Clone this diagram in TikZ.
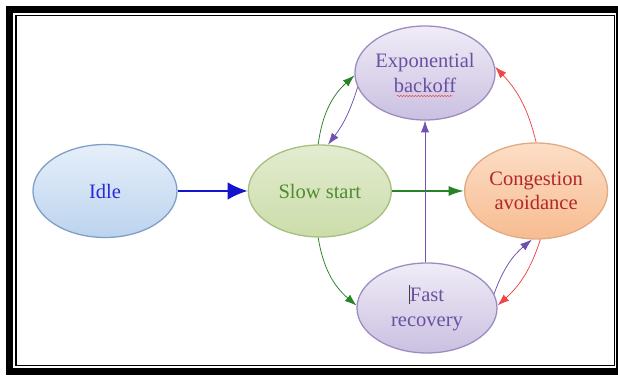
\documentclass[tikz,border=0pt]{standalone}
\usepackage{fontspec}
\setmainfont{Liberation Serif}
\usetikzlibrary{positioning,shapes.geometric,arrows.meta,decorations.pathmorphing}

\definecolor{idleBlue}{RGB}{40,40,215}
\definecolor{slowGreen}{RGB}{78,140,48}
\definecolor{stPurple}{RGB}{106,80,160}
\definecolor{congRed}{RGB}{176,40,40}
\definecolor{arrBlue}{RGB}{20,20,205}
\definecolor{arrGreen}{RGB}{40,130,40}
\definecolor{arrPurple}{RGB}{112,80,176}
\definecolor{arrRed}{RGB}{240,70,70}

\begin{document}
\begin{tikzpicture}[x=0.03cm, y=0.03cm,
    state/.style={ellipse, draw, line width=1.1pt, inner sep=0pt, align=center,
      font=\fontsize{17.5}{21}\selectfont},
    thinArrow/.style={line width=0.65pt, -{Latex[length=10pt,width=7pt]}}]
        \useasboundingbox (0,0) rectangle (618,376);
        \clip (0,0) rectangle (618,376);
        \fill[white] (0,0) rectangle (618,376);
        \draw[line width=6pt] (9.5,366.5) rectangle (619.5,4.5);
        \draw[line width=1.3pt] (16,360.5) rectangle (614.5,10.5);

        \node[state, minimum width=4.32cm, minimum height=2.79cm, draw={rgb,255:red,127;green,159;blue,200}, top color={rgb,255:red,230;green,239;blue,250}, bottom color={rgb,255:red,188;green,211;blue,238}, text=idleBlue] (idle) at (105,185) {Idle};
        \node[state, minimum width=4.29cm, minimum height=2.76cm, draw={rgb,255:red,166;green,191;blue,126}, top color={rgb,255:red,226;green,236;blue,208}, bottom color={rgb,255:red,204;green,221;blue,170}, text=slowGreen] (slowStart) [right = 2.1cm of idle] {Slow start};
        \node[state, minimum width=4.29cm, minimum height=2.88cm, draw={rgb,255:red,226;green,170;blue,130}, top color={rgb,255:red,252;green,222;blue,198}, bottom color={rgb,255:red,247;green,188;blue,145}, text=congRed] (congAvoid) [right = 2.16cm of slowStart] {Congestion\\avoidance};
        \node[state, minimum width=4.2cm, minimum height=2.82cm, draw={rgb,255:red,156;green,140;blue,191}, top color={rgb,255:red,240;green,236;blue,247}, bottom color={rgb,255:red,202;green,192;blue,225}, text=stPurple] (expBackoff) at (425,303) {Exponential\\backoff};
        \node[state, minimum width=4.2cm, minimum height=2.7cm, draw={rgb,255:red,156;green,140;blue,191}, top color={rgb,255:red,240;green,236;blue,247}, bottom color={rgb,255:red,202;green,192;blue,225}, text=stPurple] (fastRecovery) at (427,68) {\llap{\textcolor{black!75}{\rule[-2pt]{0.9pt}{16pt}}}Fast\\recovery};

        % spell check mark
        \draw[red!80, line width=0.4pt, decorate, decoration={snake, amplitude=0.5pt, segment length=2.5pt}] ([shift={(-28,-23)}]expBackoff.center) -- ([shift={(28,-23)}]expBackoff.center);

        \draw[arrBlue, line width=2pt, -{Latex[length=17pt,width=15pt]}] (idle.east) -- (slowStart.west);
        \draw[arrGreen, line width=1.6pt, -{Latex[length=13pt,width=8.5pt]}] (slowStart.east) -- (congAvoid.west);
        \draw[thinArrow, arrGreen] (slowStart.92) to[bend left=20] (expBackoff.182);
        \draw[thinArrow, arrPurple] (expBackoff.192) to[bend left=10] (slowStart.80);
        \draw[thinArrow, arrPurple] (expBackoff |- fastRecovery.north) -- (expBackoff.south);
        \draw[thinArrow, arrRed] (congAvoid.90) to[bend right=15] (expBackoff.5);
        \draw[thinArrow, arrGreen] (slowStart.268) to[bend right=20] (fastRecovery.178);
        \draw[thinArrow, arrPurple] (fastRecovery.12) to[bend left=15] (congAvoid.265);
        \draw[thinArrow, arrRed] (congAvoid.275) to[bend left=15] (fastRecovery.2);
      \end{tikzpicture}
\end{document}
